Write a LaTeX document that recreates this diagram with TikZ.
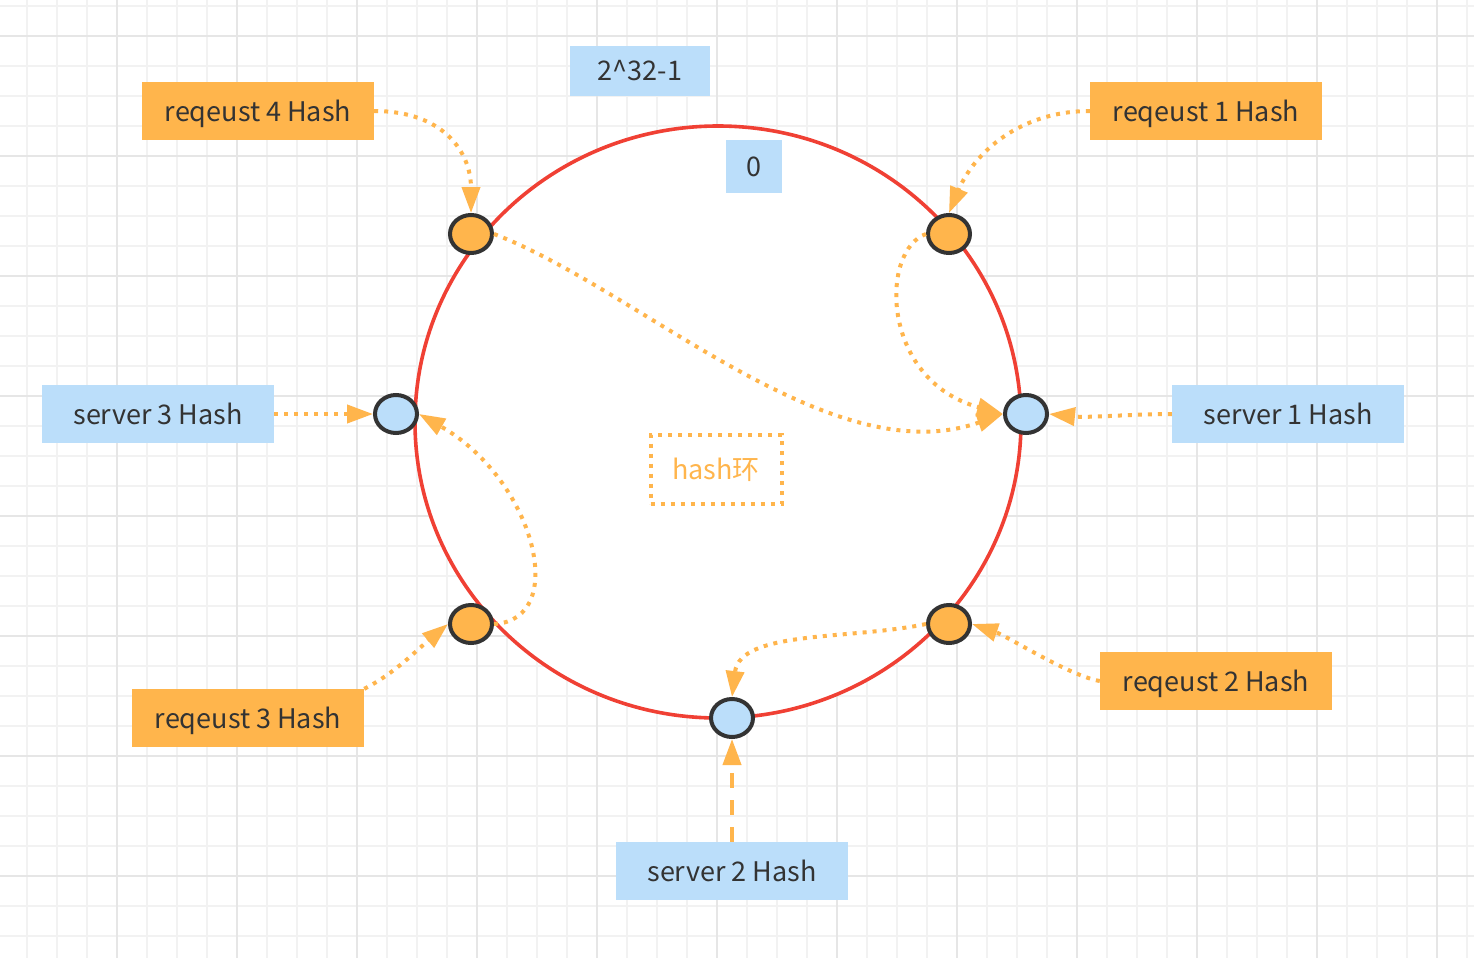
\documentclass[tikz,border=0pt]{standalone}
\usepackage{fontspec}
\setmainfont{Noto Sans CJK SC}
\usetikzlibrary{arrows.meta,shapes.geometric}
\definecolor{gridminor}{HTML}{F2F2F2}
\definecolor{gridmajor}{HTML}{E6E6E6}
\definecolor{orng}{HTML}{FFB54C}
\definecolor{lblue}{HTML}{BBDEFA}
\definecolor{ringred}{HTML}{F04034}
\definecolor{txt}{HTML}{333333}
\begin{document}
\begin{tikzpicture}[x=1pt,y=-1pt,
  label/.style={rectangle,inner sep=0pt,text=txt,font=\fontsize{27}{30}\selectfont,text height=22pt,text depth=2pt},
  obox/.style={label,fill=orng,minimum width=232pt,minimum height=58pt},
  bbox/.style={label,fill=lblue,minimum width=232pt,minimum height=58pt},
  dot/.style={ellipse,draw=txt,line width=4pt,minimum width=42pt,minimum height=38pt,inner sep=0pt},
  odot/.style={dot,fill=orng},
  bdot/.style={dot,fill=lblue},
  flow/.style={draw=orng,line width=4pt,dash pattern=on 4pt off 6pt,-{Triangle[length=26pt,width=18pt]}},
  dflow/.style={draw=orng,line width=4pt,dash pattern=on 15pt off 12pt,-{Triangle[length=26pt,width=18pt]}}]
\useasboundingbox (0,0) rectangle (1474,958);
\fill[white] (0,0) rectangle (1474,958);
\foreach \x in {27,57,...,1467} \draw[gridminor,line width=2pt] (\x,0) -- (\x,958);
\foreach \y in {6,36,...,936} \draw[gridminor,line width=2pt] (0,\y) -- (1474,\y);
\foreach \x in {117,237,...,1437} \draw[gridmajor,line width=2pt] (\x,0) -- (\x,958);
\foreach \y in {36,156,...,876} \draw[gridmajor,line width=2pt] (0,\y) -- (1474,\y);

\node[ellipse,draw=ringred,fill=white,line width=3.6pt,minimum width=606pt,minimum height=592pt,inner sep=0pt] (ring) at (718,422) {};

\node[label,fill=lblue,minimum width=140pt,minimum height=50pt] (top) at (640,71) {2\textasciicircum 32-1};
\node[label,fill=lblue,minimum width=56pt,minimum height=53pt] (zero) at (754,166.5) {0};
\node[label,draw=orng,line width=4pt,dash pattern=on 4pt off 6pt,text=orng,minimum width=131pt,minimum height=69pt] (hr) at (716,469) {hash环};

\node[obox] (r4) at (258,111) {reqeust 4 Hash};
\node[obox] (r1) at (1206,111) {reqeust 1 Hash};
\node[bbox] (b3) at (158,414) {server 3 Hash};
\node[bbox] (b1) at (1288,414) {server 1 Hash};
\node[obox] (r3) at (248,718) {reqeust 3 Hash};
\node[obox] (r2) at (1216,681) {reqeust 2 Hash};
\node[bbox] (b2) at (732,871) {server 2 Hash};

\node[odot] (o4) at (471,234) {};
\node[odot] (o1) at (949,234) {};
\node[odot] (o3) at (471,624) {};
\node[odot] (o2) at (949,624) {};
\node[bdot] (s3) at (396,414) {};
\node[bdot] (s1) at (1026,414) {};
\node[bdot] (s2) at (732,718) {};

\draw[flow] (r4.east) .. controls +(70,0) and +(0,-60) .. (o4.north);
\draw[flow] (r1.west) .. controls +(-70,0) and +(25,-60) .. (o1.north);
\draw[flow] (o4.east) .. controls (640,290) and (830,475) .. (s1.west);
\draw[flow] (o1.west) .. controls (880,250) and (880,380) .. (s1.west);
\draw[flow] (b1.west) .. controls +(-40,0) and +(40,4) .. (s1.east);
\draw[flow] (b3.east) -- (s3.west);
\draw[flow] (o3.east) .. controls (570,620) and (535,480) .. (s3.east);
\draw[flow] (r3.north east) .. controls +(30,-15) and +(-30,25) .. (o3.west);
\draw[flow] (r2.west) .. controls +(-30,-5) and +(35,12) .. (o2.east);
\draw[flow] (o2.west) .. controls (850,640) and (740,630) .. (s2.north);
\draw[dflow] (b2.north) -- (s2.south);
\end{tikzpicture}
\end{document}
